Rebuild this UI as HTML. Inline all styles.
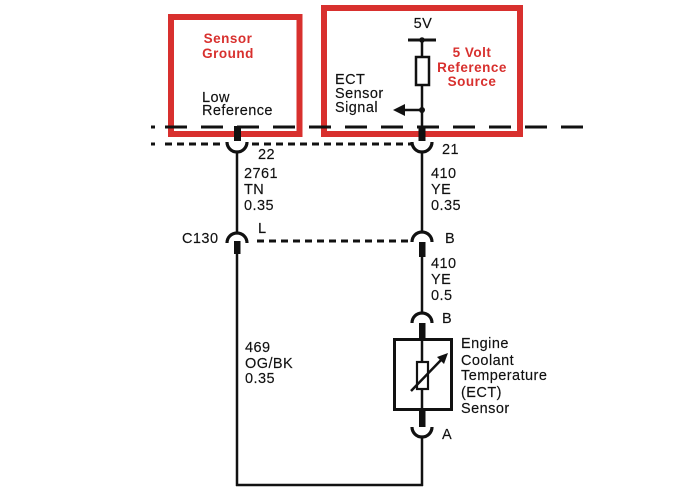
<!DOCTYPE html>
<html><head><meta charset="utf-8"><style>
html,body{margin:0;padding:0;background:#fff;}
svg{display:block;}
text{font-family:"Liberation Sans",Arial,sans-serif;font-size:14.5px;fill:#111;letter-spacing:0.45px;stroke:#111;stroke-width:0.15px;}
.r{font-weight:bold;fill:#d8302e;stroke:none;font-size:13.5px;letter-spacing:0.5px;}
</style></head><body>
<svg width="700" height="500" viewBox="0 0 700 500" xmlns="http://www.w3.org/2000/svg">
<rect width="700" height="500" fill="#fff"/>
<!-- red boxes -->
<rect x="171" y="17" width="128.5" height="117" fill="none" stroke="#d8302e" stroke-width="6"/>
<rect x="324" y="8" width="196" height="126" fill="none" stroke="#d8302e" stroke-width="6"/>
<!-- long dashed line -->
<line x1="151" y1="127" x2="155" y2="127" stroke="#111" stroke-width="3"/>
<line x1="165" y1="127" x2="586" y2="127" stroke="#111" stroke-width="3" stroke-dasharray="22 14"/>
<!-- dotted line -->
<line x1="151" y1="144" x2="155" y2="144" stroke="#111" stroke-width="3"/>
<line x1="165" y1="144" x2="225" y2="144" stroke="#111" stroke-width="3" stroke-dasharray="7 5"/>
<line x1="252" y1="144" x2="411" y2="144" stroke="#111" stroke-width="3" stroke-dasharray="7 5"/>
<!-- C130 dashed -->
<line x1="257" y1="241" x2="410" y2="241" stroke="#111" stroke-width="3" stroke-dasharray="7 5"/>

<g stroke="#111" fill="none" stroke-width="2.5">
<!-- left wire -->
<line x1="237" y1="152" x2="237" y2="233"/>
<line x1="237" y1="253" x2="237" y2="486"/>
<line x1="236" y1="485" x2="423" y2="485"/>
<!-- right wire -->
<line x1="422" y1="40" x2="422" y2="57"/>
<line x1="422" y1="85" x2="422" y2="127"/>
<line x1="422" y1="152" x2="422" y2="233"/>
<line x1="422" y1="256" x2="422" y2="313"/>
<line x1="422" y1="339" x2="422" y2="362"/>
<line x1="422" y1="389" x2="422" y2="410"/>
<line x1="422" y1="436" x2="422" y2="486"/>
<!-- 5V bar -->
<line x1="408" y1="40" x2="436" y2="40" stroke-width="3"/>
<!-- signal arrow line -->
<line x1="403" y1="110" x2="422" y2="110"/>
<!-- cups -->
<path d="M227 142 A10 10 0 0 0 247 142" stroke-width="3.2"/>
<path d="M412 142 A10 10 0 0 0 432 142" stroke-width="3.2"/>
<path d="M227 243 A10 10 0 0 1 247 243" stroke-width="3.2"/>
<path d="M412 242 A10 10 0 0 1 432 242" stroke-width="3.2"/>
<path d="M412 323 A10 10 0 0 1 432 323" stroke-width="3.2"/>
<path d="M412 427 A10 10 0 0 0 432 427" stroke-width="3.2"/>
<!-- resistor top -->
<rect x="416" y="57" width="13" height="28" fill="#fff"/>
<!-- sensor box -->
<rect x="394.5" y="339.5" width="57" height="70" stroke-width="3"/>
<rect x="417" y="362" width="11" height="27" fill="#fff" stroke-width="2.2"/>
<line x1="411" y1="391" x2="442" y2="359" stroke-width="2.5"/>
</g>
<!-- thick pins -->
<g fill="#111">
<rect x="234" y="126" width="7" height="15"/>
<rect x="418.5" y="126" width="7" height="15"/>
<rect x="234" y="241" width="6.5" height="13"/>
<rect x="419" y="242" width="6.5" height="15"/>
<rect x="419" y="323" width="6.5" height="16"/>
<rect x="419" y="410" width="6.5" height="17"/>
<circle cx="422" cy="40" r="2.8"/>
<circle cx="422" cy="110" r="3"/>
<polygon points="393,110 405,104 405,116"/>
<polygon points="448,353 437,357 444,364"/>
</g>

<!-- red labels -->
<text class="r" x="228" y="43" text-anchor="middle">Sensor</text>
<text class="r" x="228" y="58" text-anchor="middle">Ground</text>
<text class="r" x="472" y="57" text-anchor="middle">5 Volt</text>
<text class="r" x="472" y="72" text-anchor="middle">Reference</text>
<text class="r" x="472" y="86" text-anchor="middle">Source</text>

<!-- black labels -->
<text x="423" y="28" text-anchor="middle">5V</text>
<text x="202" y="102">Low</text>
<text x="202" y="115">Reference</text>
<text x="335" y="84">ECT</text>
<text x="335" y="98">Sensor</text>
<text x="335" y="112">Signal</text>
<text x="258" y="159">22</text>
<text x="442" y="154">21</text>
<text x="244" y="178">2761</text>
<text x="244" y="194">TN</text>
<text x="244" y="210">0.35</text>
<text x="431" y="178">410</text>
<text x="431" y="194">YE</text>
<text x="431" y="210">0.35</text>
<text x="182" y="243">C130</text>
<text x="258" y="233">L</text>
<text x="445" y="243">B</text>
<text x="431" y="268">410</text>
<text x="431" y="284">YE</text>
<text x="431" y="300">0.5</text>
<text x="442" y="323">B</text>
<text x="245" y="352">469</text>
<text x="245" y="368">OG/BK</text>
<text x="245" y="383">0.35</text>
<text x="461" y="348">Engine</text>
<text x="461" y="365">Coolant</text>
<text x="461" y="380">Temperature</text>
<text x="461" y="397">(ECT)</text>
<text x="461" y="413">Sensor</text>
<text x="442" y="439">A</text>
</svg>
</body></html>
